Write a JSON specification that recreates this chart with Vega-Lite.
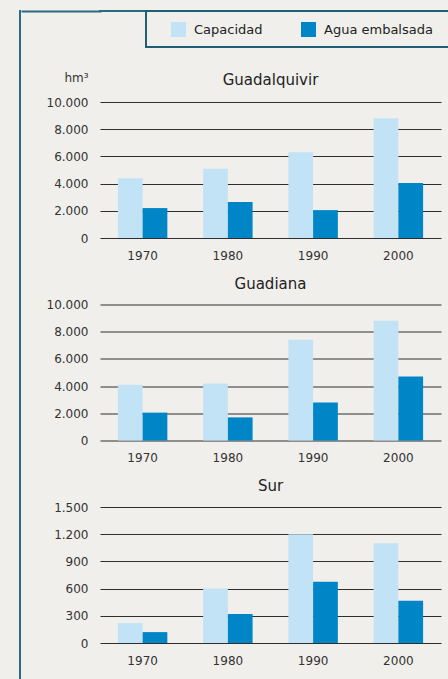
{
  "$schema": "https://vega.github.io/schema/vega-lite/v6.json",
  "background": "#f0efeb",
  "padding": {"left": 19, "top": 8, "right": 0, "bottom": 0},
  "datasets": {
    "embalses": [
      {"region": "Guadalquivir", "year": "1970", "serie": "Capacidad", "value": 4400},
      {"region": "Guadalquivir", "year": "1970", "serie": "Agua embalsada", "value": 2200},
      {"region": "Guadalquivir", "year": "1980", "serie": "Capacidad", "value": 5100},
      {"region": "Guadalquivir", "year": "1980", "serie": "Agua embalsada", "value": 2650},
      {"region": "Guadalquivir", "year": "1990", "serie": "Capacidad", "value": 6300},
      {"region": "Guadalquivir", "year": "1990", "serie": "Agua embalsada", "value": 2050},
      {"region": "Guadalquivir", "year": "2000", "serie": "Capacidad", "value": 8800},
      {"region": "Guadalquivir", "year": "2000", "serie": "Agua embalsada", "value": 4050},
      {"region": "Guadiana", "year": "1970", "serie": "Capacidad", "value": 4100},
      {"region": "Guadiana", "year": "1970", "serie": "Agua embalsada", "value": 2050},
      {"region": "Guadiana", "year": "1980", "serie": "Capacidad", "value": 4200},
      {"region": "Guadiana", "year": "1980", "serie": "Agua embalsada", "value": 1700},
      {"region": "Guadiana", "year": "1990", "serie": "Capacidad", "value": 7400},
      {"region": "Guadiana", "year": "1990", "serie": "Agua embalsada", "value": 2800},
      {"region": "Guadiana", "year": "2000", "serie": "Capacidad", "value": 8800},
      {"region": "Guadiana", "year": "2000", "serie": "Agua embalsada", "value": 4700},
      {"region": "Sur", "year": "1970", "serie": "Capacidad", "value": 220},
      {"region": "Sur", "year": "1970", "serie": "Agua embalsada", "value": 120},
      {"region": "Sur", "year": "1980", "serie": "Capacidad", "value": 600},
      {"region": "Sur", "year": "1980", "serie": "Agua embalsada", "value": 320},
      {"region": "Sur", "year": "1990", "serie": "Capacidad", "value": 1200},
      {"region": "Sur", "year": "1990", "serie": "Agua embalsada", "value": 675},
      {"region": "Sur", "year": "2000", "serie": "Capacidad", "value": 1100},
      {"region": "Sur", "year": "2000", "serie": "Agua embalsada", "value": 465}
    ]
  },
  "config": {
    "font": "DejaVu Sans",
    "view": {"stroke": null},
    "axis": {"labelFont": "DejaVu Sans", "labelFontSize": 12, "labelColor": "#333333", "ticks": false, "domain": false, "title": null},
    "axisY": {"grid": true, "gridColor": "#2e2e2e", "gridWidth": 1, "gridOpacity": 1, "labelPadding": 12, "minExtent": 78},
    "axisX": {"grid": false, "labelPadding": 12, "labelAngle": 0},
    "title": {"fontSize": 15, "fontWeight": "normal", "color": "#222222", "frame": "group", "anchor": "middle", "font": "DejaVu Sans"},
    "legend": {"padding": 0}
  },
  "spacing": -3,
  "hconcat": [
    {
      "width": 0.001, "height": 680,
      "data": {"values": []},
      "mark": {"type": "rule"},
      "encoding": {},
      "view": {"stroke": "#2b6b80", "strokeWidth": 2, "fill": null}
    },
    {
      "spacing": 23,
      "vconcat": [
        {
          "spacing": 0,
          "hconcat": [
            {
              "width": 44, "height": 0.001,
              "data": {"values": [{"edge": 1}]},
              "mark": {"type": "rule", "opacity": 0},
              "encoding": {
                "y": {"field": "edge", "type": "quantitative", "scale": {"domain": [0, 1]},
                      "axis": {"values": [1], "labels": false, "ticks": true, "tickSize": 78, "tickWidth": 2, "tickCap": "square",
                               "tickColor": "#2b6b80", "tickOpacity": 1, "grid": false, "domain": false, "title": null, "minExtent": 0}}
              },
              "view": {"stroke": "#2b6b80", "strokeWidth": 2, "fill": null}
            },
            {
              "width": 320, "height": 36,
              "data": {"values": []},
              "mark": {"type": "rule"},
              "encoding": {},
              "view": {"stroke": "#1f5f75", "strokeWidth": 2, "fill": null}
            }
          ]
        },
        {
          "spacing": 15.5,
          "vconcat": [
            {
              "title": {"text": "Guadalquivir", "baseline": "alphabetic", "offset": -29},
              "width": 341, "height": 136,
              "data": {"name": "embalses"},
              "transform": [{"filter": "datum.region === 'Guadalquivir'"}],
              "mark": {"type": "bar"},
              "encoding": {
                "x": {"field": "year", "type": "ordinal", "scale": {"paddingInner": 0.42, "paddingOuter": 0.21}},
                "xOffset": {"field": "serie", "sort": ["Capacidad", "Agua embalsada"]},
                "y": {"field": "value", "type": "quantitative", "scale": {"domain": [0, 10000]},
                      "axis": {"values": [0, 2000, 4000, 6000, 8000, 10000], "labelExpr": "replace(format(datum.value, ','), ',', '.')",
                               "title": "hm³", "titleAngle": 0, "titleX": -24, "titleY": -25, "titleAlign": "center", "titleBaseline": "middle",
                               "titleFont": "DejaVu Sans", "titleFontSize": 12, "titleFontWeight": "normal", "titleColor": "#333333"}},
                "color": {"field": "serie", "type": "nominal", "sort": ["Capacidad", "Agua embalsada"],
                          "scale": {"domain": ["Capacidad", "Agua embalsada"], "range": ["#c2e3f6", "#0085c6"]},
                          "legend": {"orient": "none", "legendX": 151, "legendY": 11, "direction": "horizontal", "title": null,
                                     "symbolType": "square", "symbolSize": 225, "symbolStrokeWidth": 0, "symbolOpacity": 1,
                                     "labelFontSize": 13, "labelFont": "DejaVu Sans", "labelColor": "#222222", "labelOffset": 8, "columnPadding": 38}}
              }
            },
            {
              "title": {"text": "Guadiana", "baseline": "alphabetic", "offset": -5},
              "width": 341, "height": 136,
              "data": {"name": "embalses"},
              "transform": [{"filter": "datum.region === 'Guadiana'"}],
              "mark": {"type": "bar"},
              "encoding": {
                "x": {"field": "year", "type": "ordinal", "scale": {"paddingInner": 0.42, "paddingOuter": 0.21}},
                "xOffset": {"field": "serie", "sort": ["Capacidad", "Agua embalsada"]},
                "y": {"field": "value", "type": "quantitative", "scale": {"domain": [0, 10000]},
                      "axis": {"values": [0, 2000, 4000, 6000, 8000, 10000], "labelExpr": "replace(format(datum.value, ','), ',', '.')"}},
                "color": {"field": "serie", "type": "nominal", "sort": ["Capacidad", "Agua embalsada"],
                          "scale": {"domain": ["Capacidad", "Agua embalsada"], "range": ["#c2e3f6", "#0085c6"]},
                          "legend": {"orient": "none", "legendX": 151, "legendY": 11, "direction": "horizontal", "title": null,
                                     "symbolType": "square", "symbolSize": 225, "symbolStrokeWidth": 0, "symbolOpacity": 1,
                                     "labelFontSize": 13, "labelFont": "DejaVu Sans", "labelColor": "#222222", "labelOffset": 8, "columnPadding": 38}}
              }
            },
            {
              "title": {"text": "Sur", "baseline": "alphabetic", "offset": -5},
              "width": 341, "height": 136,
              "data": {"name": "embalses"},
              "transform": [{"filter": "datum.region === 'Sur'"}],
              "mark": {"type": "bar"},
              "encoding": {
                "x": {"field": "year", "type": "ordinal", "scale": {"paddingInner": 0.42, "paddingOuter": 0.21}},
                "xOffset": {"field": "serie", "sort": ["Capacidad", "Agua embalsada"]},
                "y": {"field": "value", "type": "quantitative", "scale": {"domain": [0, 1500]},
                      "axis": {"values": [0, 300, 600, 900, 1200, 1500], "labelExpr": "replace(format(datum.value, ','), ',', '.')"}},
                "color": {"field": "serie", "type": "nominal", "sort": ["Capacidad", "Agua embalsada"],
                          "scale": {"domain": ["Capacidad", "Agua embalsada"], "range": ["#c2e3f6", "#0085c6"]},
                          "legend": {"orient": "none", "legendX": 151, "legendY": 11, "direction": "horizontal", "title": null,
                                     "symbolType": "square", "symbolSize": 225, "symbolStrokeWidth": 0, "symbolOpacity": 1,
                                     "labelFontSize": 13, "labelFont": "DejaVu Sans", "labelColor": "#222222", "labelOffset": 8, "columnPadding": 38}}
              }
            }
          ]
        }
      ]
    }
  ]
}
